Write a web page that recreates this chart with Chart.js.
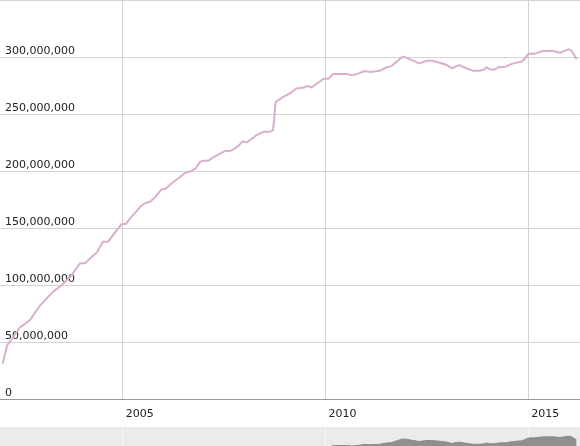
<!DOCTYPE html>
<html>
<head>
<meta charset="utf-8">
<script src="https://cdn.jsdelivr.net/npm/chart.js@4"></script>
<style>
  body { margin: 0; background: #fff; }
  #wrap { position: relative; width: 580px; height: 446px; }
  #main { position: absolute; left: 0; top: 0; width: 580px; height: 427px; }
  #range { position: absolute; left: 0; top: 427px; width: 580px; height: 19px; background: #ebebeb; }
</style>
</head>
<body>
<div id="wrap">
  <div id="main"><canvas id="chart"></canvas></div>
  <div id="range"><canvas id="selector"></canvas></div>
</div>
<script>
// decimal years and values (millions)
const years = [
  2002.04, 2002.15, 2002.47, 2002.71, 2002.96, 2003.04, 2003.28, 2003.50, 2003.70, 2003.95,
  2004.07, 2004.37, 2004.51, 2004.64, 2004.85, 2004.98, 2005.08, 2005.18, 2005.30, 2005.47,
  2005.57, 2005.67, 2005.80, 2005.96, 2006.04, 2006.17, 2006.29, 2006.41, 2006.54, 2006.66,
  2006.79, 2006.91, 2006.99, 2007.11, 2007.23, 2007.39, 2007.52, 2007.64, 2007.73, 2007.85,
  2007.96, 2008.06, 2008.30, 2008.47, 2008.63, 2008.71, 2008.77, 2008.96, 2009.12, 2009.29,
  2009.45, 2009.55, 2009.66, 2009.82, 2009.95, 2010.07, 2010.19, 2010.52, 2010.65, 2010.77,
  2010.97, 2011.10, 2011.34, 2011.51, 2011.63, 2011.76, 2011.90, 2011.98, 2012.13, 2012.31,
  2012.50, 2012.62, 2012.82, 2012.99, 2013.11, 2013.30, 2013.44, 2013.64, 2013.81, 2013.93,
  2013.97, 2014.06, 2014.18, 2014.26, 2014.43, 2014.63, 2014.84, 2014.92, 2015.00, 2015.17,
  2015.33, 2015.58, 2015.78, 2015.99, 2016.07, 2016.19
];
const values = [
  31, 47, 63, 69, 82, 85, 94, 100, 107, 119,
  119, 129, 138, 138, 148, 153.5, 153.5, 158.5, 163, 170,
  172, 173, 177, 184, 184, 188, 191.5, 194.5, 198.5, 199.5,
  202, 208, 209, 209, 212, 215, 217.5, 217.5, 219, 222,
  226, 225, 231.5, 234.4, 234.4, 236, 260.7, 265, 268, 272.5,
  273, 274.5, 273.4, 277.4, 281, 281, 285, 285, 284, 285,
  287.7, 286.8, 288, 291, 292, 296, 300.3, 299.7, 297.3, 294.4,
  296.7, 296.7, 295, 293, 290, 293, 290.6, 288, 288, 289.4,
  291, 289, 289, 291, 291.5, 294.4, 296, 298.8, 302.6, 303,
  305, 305.4, 303.7, 306.7, 305.4, 298
];
const yearTicks = [2005, 2010, 2015];
const valueTicks = [0, 50, 100, 150, 200, 250, 300, 350];

const points = years.map((x, i) => ({ x: x, y: values[i] * 1e6 }));
const xMin = 2001.975;
const xMax = 2016.275;

Chart.defaults.font.family = 'DejaVu Sans';
Chart.defaults.font.size = 11;
Chart.defaults.color = '#222';

new Chart(document.getElementById('chart'), {
  type: 'line',
  data: {
    datasets: [{
      data: points,
      borderColor: '#d8afcf',
      borderWidth: 2,
      pointRadius: 0,
      tension: 0
    }]
  },
  options: {
    responsive: true,
    maintainAspectRatio: false,
    animation: false,
    layout: { padding: 0 },
    plugins: { legend: { display: false }, tooltip: { enabled: false } },
    scales: {
      x: {
        type: 'linear',
        min: xMin,
        max: xMax,
        afterBuildTicks: (s) => { s.ticks = yearTicks.map(v => ({ value: v })); },
        afterFit: (s) => { s.height = 28; s.paddingLeft = 0; s.paddingRight = 0; },
        grid: { color: '#d3d3d3', drawTicks: false },
        border: { display: false },
        ticks: {
          align: 'start',
          labelOffset: 3,
          padding: 9,
          maxRotation: 0,
          callback: (v) => String(v)
        }
      },
      y: {
        min: 0,
        max: 350e6,
        afterBuildTicks: (s) => { s.ticks = valueTicks.map(v => ({ value: v * 1e6 })); },
        afterFit: (s) => { s.width = 0; s.paddingTop = 0; s.paddingBottom = 0; },
        grid: {
          drawTicks: false,
          color: (c) => (c.tick && c.tick.value === 0 ? '#999' : '#d3d3d3')
        },
        border: { display: false },
        ticks: {
          mirror: true,
          padding: 5,
          labelOffset: -6,
          callback: (v) => (v >= 350e6 ? '' : v.toLocaleString('en-US'))
        }
      }
    }
  }
});

new Chart(document.getElementById('selector'), {
  type: 'line',
  data: {
    datasets: [{
      data: points,
      borderColor: '#8a8a8a',
      backgroundColor: '#8f8f8f',
      borderWidth: 1,
      pointRadius: 0,
      fill: 'start',
      tension: 0
    }]
  },
  options: {
    responsive: true,
    maintainAspectRatio: false,
    animation: false,
    layout: { padding: 0 },
    plugins: { legend: { display: false }, tooltip: { enabled: false } },
    scales: {
      x: {
        type: 'linear',
        min: xMin,
        max: xMax,
        afterBuildTicks: (s) => { s.ticks = yearTicks.map(v => ({ value: v })); },
        afterFit: (s) => { s.height = 0; s.paddingLeft = 0; s.paddingRight = 0; },
        grid: { color: '#f6f6f6', drawTicks: false },
        border: { display: false },
        ticks: { display: false }
      },
      y: {
        min: 284e6,
        max: 328e6,
        display: false
      }
    }
  }
});
</script>
</body>
</html>
